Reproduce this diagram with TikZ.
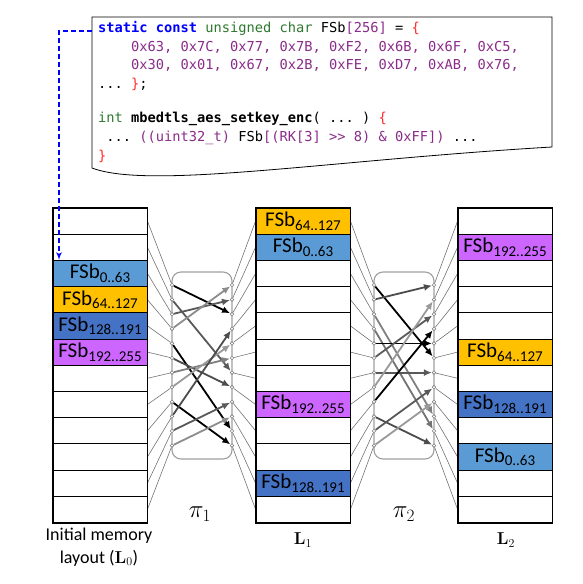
\documentclass[tikz,border=0pt]{standalone}
\usepackage[no-math]{fontspec}
\setmainfont{Carlito}
\setmonofont{DejaVu Sans Mono}
\usepackage{tikz}
\usetikzlibrary{arrows,arrows.meta,backgrounds}
\definecolor{fsblue}{HTML}{5B9BD5}
\definecolor{fsorange}{HTML}{FFC000}
\definecolor{fsdark}{HTML}{4472C4}
\definecolor{fspurple}{HTML}{CC66FF}
\definecolor{kwblue}{HTML}{0000FF}
\definecolor{kwgreen}{HTML}{2E7A2E}
\definecolor{numpurple}{HTML}{8A2C8A}
\definecolor{bracered}{HTML}{FF2A2A}
\tikzstyle{slot} = [rectangle, draw, line width=0.9pt, fill=white,
    minimum width=94pt, minimum height=26.2pt, inner sep=0pt,
    font=\fontsize{21}{21}\selectfont]
\tikzstyle{pin} = [circle, draw=gray, fill=white, inner sep=0pt,
    minimum size=3.6pt, line width=0.6pt]
\tikzstyle{fan} = [draw=black!55, line width=0.6pt]
\tikzstyle{permbox} = [rectangle, draw=gray!75, line width=1.1pt,
    rounded corners=9pt, minimum width=60pt, minimum height=187pt]
\tikzstyle{move} = [draw, line width=1.8pt, -{Latex[length=8pt,width=7pt]}]
\tikzstyle{codeline} = [anchor=base west, inner sep=0pt,
    font=\fontsize{13.7}{16}\ttfamily]
\tikzstyle{caption} = [font=\fontsize{18}{23}\selectfont, align=center]
\newcommand{\fsb}[1]{FSb\raisebox{-0.35ex}{\fontsize{15}{15}\selectfont #1}}

\begin{document}
\begin{tikzpicture}[x=1pt, y=-1pt]
    \useasboundingbox (0,0) rectangle (582,584);

    % Place nodes
    % code excerpt
    \draw [fill=white, line width=0.8pt] (92,168) -- (92,17) -- (552,17) -- (552,147)
        .. controls (330,160) and (150,190) .. (92,168);
    \coordinate (codeL) at (92,31);
    \coordinate (bend) at (59,31);
    \node [codeline] (code1) at (98,32) {{\bfseries\color{kwblue}static const} {\color{kwgreen}unsigned char} FSb{\color{numpurple}[256]} = {\color{bracered}\{}};
    \node [codeline] (code2) at (98,51) {\color{numpurple}\ \ \ \ 0x63, 0x7C, 0x77, 0x7B, 0xF2, 0x6B, 0x6F, 0xC5,};
    \node [codeline] (code3) at (98,69.5) {\color{numpurple}\ \ \ \ 0x30, 0x01, 0x67, 0x2B, 0xFE, 0xD7, 0xAB, 0x76,};
    \node [codeline] (code4) at (98,88) {... {\color{bracered}\}};};
    \node [codeline] (code5) at (98,122.5) {{\color{kwgreen}int} {\bfseries mbedtls\_aes\_setkey\_enc}( ... ) {\color{bracered}\{}};
    \node [codeline] (code6) at (98,141.5) {\ ... {\color{numpurple}((uint32\_t)} FSb{\color{numpurple}[(RK[3] >{}> 8) \& 0xFF])} ...};
    \node [codeline] (code7) at (98,160) {\color{bracered}\}};

    % memory layouts
    \foreach \i in {0,1,6,7,8,9,10,11}
        \node [slot] (L0r\i) at (100,{221.1+26.2*\i}) {};
    \node [slot, fill=fsblue] (L0r2) at (100,{221.1+26.2*2}) {\fsb{0..63}};
    \node [slot, fill=fsorange] (L0r3) at (100,{221.1+26.2*3}) {\fsb{64..127}};
    \node [slot, fill=fsdark] (L0r4) at (100,{221.1+26.2*4}) {\fsb{128..191}};
    \node [slot, fill=fspurple] (L0r5) at (100,{221.1+26.2*5}) {\fsb{192..255}};

    \foreach \i in {2,3,4,5,6,8,9,11}
        \node [slot] (L1r\i) at (303,{221.1+26.2*\i}) {};
    \node [slot, fill=fsorange] (L1r0) at (303,{221.1+26.2*0}) {\fsb{64..127}};
    \node [slot, fill=fsblue] (L1r1) at (303,{221.1+26.2*1}) {\fsb{0..63}};
    \node [slot, fill=fspurple] (L1r7) at (303,{221.1+26.2*7}) {\fsb{192..255}};
    \node [slot, fill=fsdark] (L1r10) at (303,{221.1+26.2*10}) {\fsb{128..191}};

    \foreach \i in {0,2,3,4,6,8,10,11}
        \node [slot] (L2r\i) at (505,{221.1+26.2*\i}) {};
    \node [slot, fill=fspurple] (L2r1) at (505,{221.1+26.2*1}) {\fsb{192..255}};
    \node [slot, fill=fsorange] (L2r5) at (505,{221.1+26.2*5}) {\fsb{64..127}};
    \node [slot, fill=fsdark] (L2r7) at (505,{221.1+26.2*7}) {\fsb{128..191}};
    \node [slot, fill=fsblue] (L2r9) at (505,{221.1+26.2*9}) {\fsb{0..63}};

    \draw [line width=1.5pt] (L0r0.north west) rectangle (L0r11.south east);
    \draw [line width=1.5pt] (L1r0.north west) rectangle (L1r11.south east);
    \draw [line width=1.5pt] (L2r0.north west) rectangle (L2r11.south east);

    % permutation pins
    \foreach \i in {0,...,11} {
        \node [pin] (p1l\i) at (172,{285+14.6*\i}) {};
        \node [pin] (p1r\i) at (232,{285+14.6*\i}) {};
        \node [pin] (p2l\i) at (374,{285+14.6*\i}) {};
        \node [pin] (p2r\i) at (434,{285+14.6*\i}) {};
    }

    % labels
    \node (pi1) at (200,514) {\fontsize{24}{24}\selectfont$\pi_1$};
    \node (pi2) at (404,514) {\fontsize{24}{24}\selectfont$\pi_2$};
    \node [font=\fontsize{18}{18}\selectfont] (lab1) at (303,540) {$\mathbf{L}_1$};
    \node [font=\fontsize{18}{18}\selectfont] (lab2) at (506,540) {$\mathbf{L}_2$};
    \node [caption] (lab0) at (99,547) {Initial memory\\layout ($\mathbf{L}_0$)};

    % Draw edges
    \begin{scope}[on background layer]
        \node [permbox] (perm1) at (202,365.5) {};
        \node [permbox] (perm2) at (404,365.5) {};
        \foreach \i in {0,...,11} {
            \path [fan] (L0r\i.east) -- (p1l\i);
            \path [fan] (p1r\i) -- (L1r\i.west);
            \path [fan] (L1r\i.east) -- (p2l\i);
            \path [fan] (p2r\i) -- (L2r\i.west);
        }
        \foreach \a/\b/\c in {0/2/black, 1/6/black!65, 2/1/black!65, 3/0/black!45,
                4/10/black, 5/7/black!70, 6/5/black!50, 7/4/black!40,
                8/11/black, 9/3/black!70, 10/8/black!65, 11/9/black!45}
            \path [move, draw=\c, fill=\c] (p1l\a) -- (p1r\b);
        \foreach \a/\b/\c in {0/5/black, 1/0/black!70, 2/9/black!50, 3/10/black!55,
                4/4/black, 5/2/black!65, 6/6/black!65, 7/1/black!40,
                8/3/black, 9/11/black!70, 10/7/black!65, 11/8/black!40}
            \path [move, draw=\c, fill=\c] (p2l\a) -- (p2r\b);
    \end{scope}

    \draw [kwblue, line width=1.6pt, dash pattern=on 5pt off 3pt, -latex']
        (codeL) -- (bend) -- (bend |- L0r2.north);

\end{tikzpicture}
\end{document}
